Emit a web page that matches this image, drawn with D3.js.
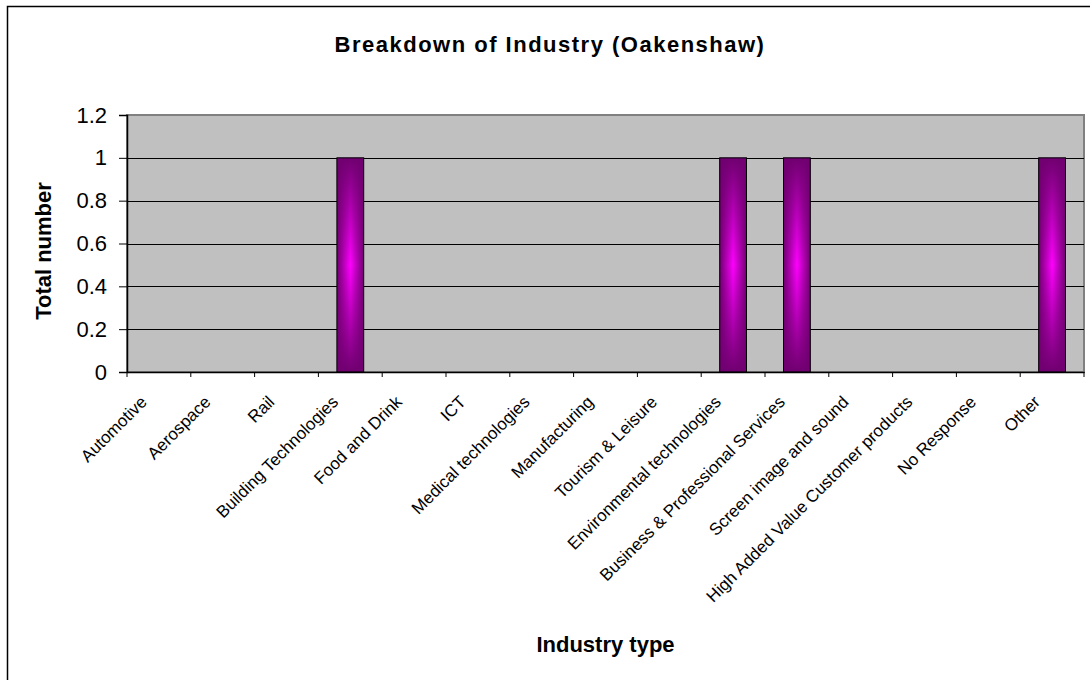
<!DOCTYPE html>
<html>
<head>
<meta charset="utf-8">
<script src="https://cdn.jsdelivr.net/npm/d3@7"></script>
<style>
  html, body { margin: 0; padding: 0; background: #fff; }
  svg { display: block; font-family: "Liberation Sans", Arial, sans-serif; }
</style>
</head>
<body>
<svg id="chart" width="1090" height="680"></svg>
<script>
const categories = [
  "Automotive", "Aerospace", "Rail", "Building Technologies", "Food and Drink",
  "ICT", "Medical technologies", "Manufacturing", "Tourism & Leisure",
  "Environmental technologies", "Business & Professional Services",
  "Screen image and sound", "High Added Value Customer products",
  "No Response", "Other"
];
const values = [0, 0, 0, 1, 0, 0, 0, 0, 0, 1, 1, 0, 0, 0, 1];
const yTicks = [0, 0.2, 0.4, 0.6, 0.8, 1, 1.2];
const titleText = "Breakdown of Industry (Oakenshaw)";
const xTitle = "Industry type";
const yTitle = "Total number";

const svg = d3.select("#chart");
const plot = { left: 127, right: 1084, top: 115, bottom: 372 };

// outer chart border (only top/left fall inside the frame)
svg.append("rect")
  .attr("x", 7.5).attr("y", 6.5).attr("width", 1200).attr("height", 800)
  .attr("fill", "#fff").attr("stroke", "#000").attr("stroke-width", 1.5);

const x = d3.scaleBand().domain(categories).range([plot.left, plot.right]).paddingInner(0).paddingOuter(0);
const y = d3.scaleLinear().domain([0, 1.2]).range([plot.bottom, plot.top]);

// gradients
const defs = svg.append("defs");
const gh = defs.append("linearGradient").attr("id", "gh").attr("x1", 0).attr("x2", 1).attr("y1", 0).attr("y2", 0);
gh.append("stop").attr("offset", 0).attr("stop-color", "#700070");
gh.append("stop").attr("offset", 0.5).attr("stop-color", "#ff00ff");
gh.append("stop").attr("offset", 1).attr("stop-color", "#700070");
const gv = defs.append("linearGradient").attr("id", "gv").attr("x1", 0).attr("x2", 0).attr("y1", 0).attr("y2", 1);
gv.append("stop").attr("offset", 0).attr("stop-color", "#700070").attr("stop-opacity", 1);
gv.append("stop").attr("offset", 0.5).attr("stop-color", "#700070").attr("stop-opacity", 0);
gv.append("stop").attr("offset", 1).attr("stop-color", "#700070").attr("stop-opacity", 1);

// plot background
svg.append("rect")
  .attr("x", plot.left).attr("y", plot.top)
  .attr("width", plot.right - plot.left).attr("height", plot.bottom - plot.top)
  .attr("fill", "#c0c0c0").attr("stroke", "#808080").attr("stroke-width", 2);

// gridlines
svg.append("g").selectAll("line").data(yTicks.filter(d => d > 0 && d < 1.2)).join("line")
  .attr("x1", plot.left).attr("x2", plot.right)
  .attr("y1", d => Math.round(y(d)) + 0.5).attr("y2", d => Math.round(y(d)) + 0.5)
  .attr("stroke", "#000").attr("stroke-width", 1);

// bars
const barW = x.bandwidth() * 0.42;
const barData = categories.map((c, i) => ({ c, v: values[i] })).filter(d => d.v > 0);
const bars = svg.append("g").selectAll("g").data(barData).join("g");
bars.append("rect")
  .attr("x", d => x(d.c) + (x.bandwidth() - barW) / 2)
  .attr("y", d => y(d.v))
  .attr("width", barW).attr("height", d => y(0) - y(d.v))
  .attr("fill", "url(#gh)");
bars.append("rect")
  .attr("x", d => x(d.c) + (x.bandwidth() - barW) / 2)
  .attr("y", d => y(d.v))
  .attr("width", barW).attr("height", d => y(0) - y(d.v))
  .attr("fill", "url(#gv)").attr("stroke", "#000").attr("stroke-width", 1);

// y axis
const yAxis = d3.axisLeft(y).tickValues(yTicks).tickSize(8).tickPadding(12)
  .tickFormat(d => d3.format("~g")(d));
const gy = svg.append("g").attr("transform", `translate(${plot.left},0)`).call(yAxis);
gy.select(".domain").attr("stroke", "#000").attr("stroke-width", 1.5);
gy.selectAll(".tick line").attr("stroke", "#000");
gy.selectAll(".tick text").attr("font-size", 22).attr("fill", "#000")
  .attr("font-family", "'Liberation Sans', Arial, sans-serif");

// x axis
const xAxis = d3.axisBottom(x).tickSize(0).tickFormat("");
const gx = svg.append("g").attr("transform", `translate(0,${plot.bottom})`).call(xAxis);
gx.select(".domain").attr("stroke", "#000").attr("stroke-width", 1.5);
svg.append("g").selectAll("line")
  .data(d3.range(categories.length + 1))
  .join("line")
  .attr("x1", i => plot.left + i * x.step()).attr("x2", i => plot.left + i * x.step())
  .attr("y1", plot.bottom).attr("y2", plot.bottom + 5)
  .attr("stroke", "#000").attr("stroke-width", 1);

// x labels
svg.append("g").selectAll("text").data(categories).join("text")
  .attr("transform", d => `translate(${x(d) + x.bandwidth() / 2 - 11},${plot.bottom + 31}) rotate(-45)`)
  .attr("text-anchor", "end")
  .attr("font-size", 17)
  .attr("fill", "#000")
  .text(d => d);

// titles
svg.append("text").attr("x", 550).attr("y", 52).attr("text-anchor", "middle")
  .attr("font-size", 22).attr("letter-spacing", 1.5).attr("font-weight", "bold").text(titleText);
svg.append("text").attr("x", (plot.left + plot.right) / 2).attr("y", 652).attr("text-anchor", "middle")
  .attr("font-size", 22).attr("font-weight", "bold").text(xTitle);
svg.append("text").attr("transform", `translate(51,251) rotate(-90)`).attr("text-anchor", "middle")
  .attr("font-size", 22).attr("font-weight", "bold").text(yTitle);
</script>
</body>
</html>
